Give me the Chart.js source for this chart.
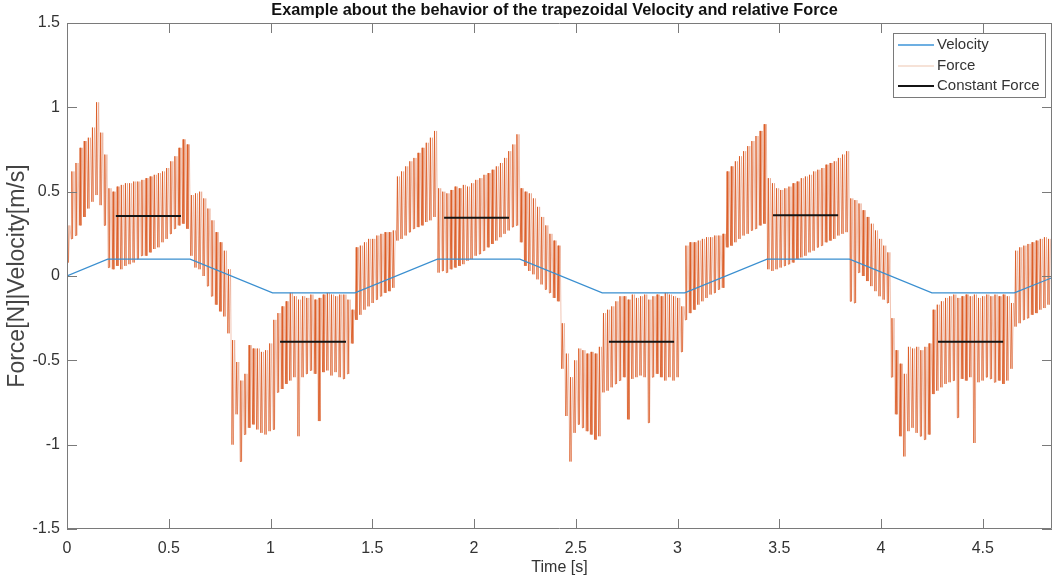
<!DOCTYPE html>
<html>
<head>
<meta charset="utf-8">
<title>Trapezoidal Velocity and relative Force</title>
<script src="https://cdn.jsdelivr.net/npm/chart.js@4.4.0/dist/chart.umd.min.js"></script>
<style>
  html, body { margin: 0; padding: 0; background: #fff; }
  #wrap { width: 1055px; height: 583px; }
</style>
</head>
<body>
<div id="wrap"><canvas id="forceChart" width="1055" height="583"></canvas></div>
<script>
// Tick labels
var timeTicks = [0, 0.5, 1, 1.5, 2, 2.5, 3, 3.5, 4, 4.5];
var valueTicks = [-1.5, -1, -0.5, 0, 0.5, 1, 1.5];

// Trapezoidal velocity, corners
var velocityTime = [0, 0.2, 0.605, 1.01, 1.415, 1.82, 2.225, 2.63, 3.035, 3.44, 3.845, 4.25, 4.655, 4.84];
var velocityValue = [0, 0.1, 0.1, -0.1, -0.1, 0.1, 0.1, -0.1, -0.1, 0.1, 0.1, -0.1, -0.1, -0.01];

// Constant force on the flat parts of the velocity
var constStart = [0.24, 1.047, 1.853, 2.663, 3.469, 4.28];
var constEnd = [0.56, 1.371, 2.172, 2.983, 3.789, 4.60];
var constForce = [0.355, -0.39, 0.345, -0.39, 0.36, -0.39];

// Force ripple: one peak and one trough per ripple period
var forceStep = 0.02025;
var forceHigh = [
	0.30, 0.62, 0.67, 0.76, 0.80, 0.82, 0.88, 1.03, 0.85, 0.72,
	0.52, 0.50, 0.53, 0.54, 0.55, 0.55, 0.56, 0.56, 0.57, 0.58, 0.59, 0.60, 0.61, 0.62, 0.64, 0.68, 0.71, 0.76, 0.81, 0.78,
	0.48, 0.49, 0.50, 0.46, 0.40, 0.33, 0.26, 0.20, 0.15, 0.04, -0.38, -0.51, -0.62, -0.58, -0.41, -0.43, -0.43, -0.45, -0.44, -0.40,
	-0.26, -0.22, -0.18, -0.15, -0.10, -0.12, -0.14, -0.12, -0.13, -0.11, -0.14, -0.13, -0.11, -0.10, -0.11, -0.12, -0.11, -0.11, -0.14, -0.20,
	0.17, 0.18, 0.20, 0.22, 0.22, 0.24, 0.25, 0.26, 0.26, 0.27, 0.59, 0.62, 0.65, 0.68, 0.70, 0.73, 0.76, 0.79, 0.82, 0.86,
	0.52, 0.50, 0.49, 0.51, 0.53, 0.52, 0.54, 0.53, 0.55, 0.57, 0.58, 0.60, 0.61, 0.63, 0.65, 0.67, 0.70, 0.74, 0.78, 0.84,
	0.52, 0.50, 0.49, 0.46, 0.41, 0.35, 0.30, 0.25, 0.21, 0.18, -0.28, -0.46, -0.60, -0.50, -0.43, -0.44, -0.46, -0.45, -0.46, -0.42,
	-0.22, -0.20, -0.18, -0.15, -0.12, -0.12, -0.14, -0.11, -0.13, -0.12, -0.11, -0.14, -0.12, -0.11, -0.12, -0.10, -0.11, -0.12, -0.13, -0.18,
	0.18, 0.20, 0.20, 0.21, 0.22, 0.23, 0.23, 0.24, 0.24, 0.25, 0.62, 0.65, 0.68, 0.71, 0.74, 0.77, 0.80, 0.83, 0.86, 0.90,
	0.58, 0.55, 0.52, 0.51, 0.52, 0.53, 0.55, 0.56, 0.58, 0.59, 0.60, 0.62, 0.63, 0.64, 0.66, 0.67, 0.68, 0.70, 0.72, 0.74,
	0.46, 0.45, 0.43, 0.39, 0.35, 0.31, 0.27, 0.22, 0.18, 0.14, -0.25, -0.44, -0.52, -0.58, -0.42, -0.43, -0.42, -0.44, -0.42, -0.40,
	-0.20, -0.17, -0.15, -0.13, -0.12, -0.11, -0.13, -0.12, -0.11, -0.12, -0.11, -0.13, -0.12, -0.11, -0.12, -0.11, -0.12, -0.11, -0.12, -0.16,
	0.15, 0.17, 0.18, 0.19, 0.20, 0.21, 0.22, 0.23, 0.22
];
var forceLow = [
	0.08, 0.22, 0.24, 0.30, 0.35, 0.40, 0.44, 0.48, 0.42, 0.30,
	0.05, 0.04, 0.06, 0.04, 0.06, 0.07, 0.08, 0.10, 0.12, 0.12, 0.14, 0.16, 0.17, 0.20, 0.22, 0.25, 0.28, 0.30, 0.31, 0.28,
	0.12, 0.05, 0.04, 0.00, -0.06, -0.12, -0.17, -0.21, -0.24, -0.34, -1.00, -0.82, -1.10, -0.94, -0.90, -0.88, -0.91, -0.93, -0.94, -0.92,
	-0.91, -0.69, -0.67, -0.64, -0.62, -0.60, -0.95, -0.60, -0.58, -0.56, -0.58, -0.86, -0.57, -0.56, -0.59, -0.57, -0.60, -0.61, -0.58, -0.40,
	-0.26, -0.23, -0.20, -0.18, -0.16, -0.14, -0.12, -0.10, -0.09, -0.07, 0.21, 0.22, 0.24, 0.26, 0.28, 0.29, 0.30, 0.32, 0.33, 0.35,
	0.02, 0.03, 0.02, 0.04, 0.05, 0.06, 0.07, 0.09, 0.10, 0.12, 0.13, 0.15, 0.17, 0.19, 0.21, 0.23, 0.25, 0.27, 0.29, 0.30,
	0.20, 0.06, 0.03, 0.01, -0.02, -0.05, -0.08, -0.10, -0.13, -0.15, -0.55, -0.83, -1.10, -0.93, -0.88, -0.90, -0.92, -0.94, -0.97, -0.95,
	-0.69, -0.68, -0.66, -0.64, -0.62, -0.60, -0.85, -0.61, -0.60, -0.59, -0.60, -0.87, -0.60, -0.58, -0.60, -0.62, -0.60, -0.62, -0.60, -0.45,
	-0.26, -0.22, -0.20, -0.17, -0.15, -0.13, -0.11, -0.10, -0.08, -0.07, 0.17, 0.18, 0.20, 0.22, 0.24, 0.25, 0.27, 0.28, 0.30, 0.31,
	0.04, 0.03, 0.04, 0.05, 0.06, 0.07, 0.08, 0.10, 0.11, 0.12, 0.14, 0.15, 0.17, 0.18, 0.20, 0.21, 0.22, 0.24, 0.25, 0.26,
	-0.15, -0.16, 0.02, 0.00, -0.03, -0.06, -0.09, -0.12, -0.14, -0.16, -0.60, -0.82, -0.95, -1.07, -0.92, -0.90, -0.93, -0.95, -0.97, -0.94,
	-0.70, -0.68, -0.66, -0.64, -0.63, -0.62, -0.84, -0.61, -0.62, -0.60, -0.99, -0.63, -0.62, -0.60, -0.61, -0.63, -0.62, -0.64, -0.62, -0.55,
	-0.30, -0.28, -0.26, -0.25, -0.23, -0.22, -0.20, -0.19, -0.17
];

var axisColor = '#7a7a7a';
var textColor = '#333333';
var fontFamily = '"Liberation Sans", Arial, Helvetica, sans-serif';
var forceDark = 'rgba(218, 88, 32, 0.85)';
var forceLight = 'rgba(228, 140, 105, 0.5)';

// Build point lists from the arrays above
var velocityPoints = velocityTime.map(function (t, i) {
	return { x: t, y: velocityValue[i] };
});

var constPoints = [];
constStart.forEach(function (t, i) {
	constPoints.push({ x: t, y: constForce[i] });
	constPoints.push({ x: constEnd[i], y: constForce[i] });
	constPoints.push({ x: constEnd[i], y: null });
});

// each ripple: sharp rise/fall (dark), then a faint return stroke
var forcePoints = [];
forceHigh.forEach(function (hi, i) {
	var t0 = i * forceStep;
	forcePoints.push({ x: t0, y: forceLow[i] });
	forcePoints.push({ x: t0 + 0.18 * forceStep, y: hi });
	forcePoints.push({ x: t0 + 0.36 * forceStep, y: forceLow[i] });
	forcePoints.push({ x: t0 + 0.68 * forceStep, y: hi });
});

// MATLAB style box with inward ticks on all four sides
var axesFrame = {
	id: 'axesFrame',
	afterDatasetsDraw: function (chart) {
		var a = chart.chartArea;
		var ctx = chart.ctx;
		var xs = chart.scales.x;
		var ys = chart.scales.y;
		var len = 10;
		ctx.save();
		ctx.strokeStyle = axisColor;
		ctx.lineWidth = 1;
		ctx.beginPath();
		ctx.rect(a.left + 0.5, a.top + 0.5, a.right - a.left - 1, a.bottom - a.top - 1);
		timeTicks.forEach(function (v) {
			var px = Math.round(xs.getPixelForValue(v)) + 0.5;
			ctx.moveTo(px, a.bottom);
			ctx.lineTo(px, a.bottom - len);
			ctx.moveTo(px, a.top);
			ctx.lineTo(px, a.top + len);
		});
		valueTicks.forEach(function (v) {
			var py = Math.round(ys.getPixelForValue(v)) + 0.5;
			ctx.moveTo(a.left, py);
			ctx.lineTo(a.left + len, py);
			ctx.moveTo(a.right, py);
			ctx.lineTo(a.right - len, py);
		});
		ctx.stroke();
		ctx.restore();
	}
};

// Title centred over the axes
var plotTitle = {
	id: 'plotTitle',
	afterDraw: function (chart) {
		var a = chart.chartArea;
		var ctx = chart.ctx;
		ctx.save();
		ctx.fillStyle = '#111';
		ctx.font = 'bold 16.3px ' + fontFamily;
		ctx.textAlign = 'center';
		ctx.textBaseline = 'middle';
		ctx.fillText('Example about the behavior of the trapezoidal Velocity and relative Force', (a.left + a.right) / 2 - 5, a.top - 12);
		ctx.restore();
	}
};

// Boxed legend in the upper right corner
var legendOrder = ['Velocity', 'Force', 'Constant Force'];
var boxLegend = {
	id: 'boxLegend',
	afterDraw: function (chart) {
		var a = chart.chartArea;
		var ctx = chart.ctx;
		var w = 152, h = 64;
		var x = a.right - 159, y = a.top + 10;
		ctx.save();
		ctx.fillStyle = '#fff';
		ctx.fillRect(x, y, w, h);
		ctx.strokeStyle = axisColor;
		ctx.lineWidth = 1;
		ctx.strokeRect(x + 0.5, y + 0.5, w, h);
		ctx.font = '15px ' + fontFamily;
		ctx.textBaseline = 'middle';
		legendOrder.forEach(function (label, i) {
			var ds = chart.data.datasets.find(function (d) { return d.label === label; });
			var ry = Math.round(y + 12 + i * 20.5);
			ctx.strokeStyle = ds.legendColor || ds.borderColor;
			ctx.lineWidth = ds.legendWidth || ds.borderWidth;
			ctx.beginPath();
			ctx.moveTo(x + 5, ry);
			ctx.lineTo(x + 41, ry);
			ctx.stroke();
			ctx.fillStyle = textColor;
			ctx.fillText(label, x + 44, ry);
		});
		ctx.restore();
	}
};

new Chart(document.getElementById('forceChart').getContext('2d'), {
	type: 'line',
	data: {
		datasets: [{
			label: 'Constant Force',
			data: constPoints,
			borderColor: '#141414',
			borderWidth: 2,
			pointRadius: 0,
			spanGaps: false,
		}, {
			label: 'Velocity',
			data: velocityPoints,
			borderColor: '#3a8fd0',
			legendColor: '#3d94d8',
			legendWidth: 1.6,
			borderWidth: 1.2,
			pointRadius: 0,
		}, {
			label: 'Force',
			data: forcePoints,
			borderColor: '#f3d8ca',
			legendWidth: 1.6,
			borderWidth: 1,
			pointRadius: 0,
			segment: {
				borderColor: function (c) { return c.p0DataIndex % 4 < 2 ? forceDark : forceLight; },
			},
		}],
	},
	options: {
		responsive: false,
		animation: false,
		devicePixelRatio: 1,
		layout: { padding: { top: 23, right: 3, left: 0, bottom: 0 } },
		plugins: {
			legend: { display: false },
			tooltip: { enabled: false },
		},
		scales: {
			x: {
				type: 'linear',
				min: 0,
				max: 4.84,
				afterBuildTicks: function (s) { s.ticks = timeTicks.map(function (v) { return { value: v }; }); },
				afterFit: function (s) { s.height = 54; },
				grid: { display: false, drawTicks: false, tickLength: 0 },
				border: { display: false },
				ticks: {
					padding: 10,
					color: textColor,
					maxRotation: 0,
					autoSkip: false,
					font: { family: fontFamily, size: 16 },
					callback: function (v) { return String(v); },
				},
				title: {
					display: true,
					text: 'Time [s]',
					color: textColor,
					font: { family: fontFamily, size: 16 },
					padding: { top: 0, bottom: 6 },
				},
			},
			y: {
				type: 'linear',
				min: -1.5,
				max: 1.5,
				afterBuildTicks: function (s) { s.ticks = valueTicks.map(function (v) { return { value: v }; }); },
				afterFit: function (s) { s.width = 67; },
				grid: { display: false, drawTicks: false, tickLength: 0 },
				border: { display: false },
				ticks: {
					padding: 7,
					color: textColor,
					autoSkip: false,
					font: { family: fontFamily, size: 16 },
					callback: function (v) { return String(v); },
				},
				title: {
					display: true,
					text: 'Force[N]|Velocity[m/s]',
					color: '#444444',
					font: { family: fontFamily, size: 23 },
					padding: { top: 4, bottom: 0 },
				},
			},
		},
	},
	plugins: [axesFrame, plotTitle, boxLegend],
});
</script>
</body>
</html>
